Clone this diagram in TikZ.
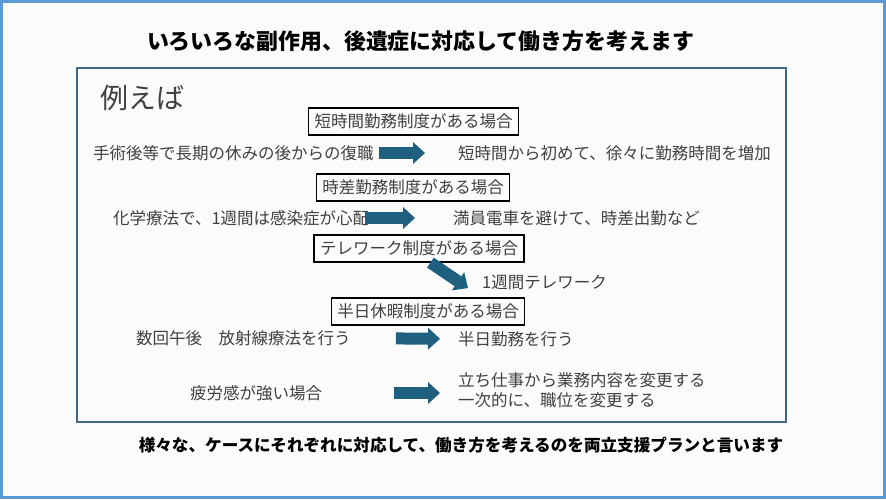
\documentclass[tikz,border=0pt]{standalone}
\usepackage{fontspec}
\setmainfont{Noto Sans CJK JP}
\usetikzlibrary{arrows.meta}
\definecolor{framecol}{HTML}{41697F}
\definecolor{arrowcol}{HTML}{1F5F80}
\definecolor{bordercol}{HTML}{5B9BD5}
\definecolor{textcol}{HTML}{404040}
\definecolor{paper}{HTML}{FBFBFB}

\begin{document}
\begin{tikzpicture}[x=1pt, y=-1pt,
  txt/.style={inner sep=0pt, text=textcol, font=\fontsize{16.5}{20}\selectfont},
  seido/.style={draw, line width=1.2pt, inner xsep=6pt, inner ysep=0pt,
    minimum height=27pt, text=textcol, font=\fontsize{16.5}{20}\selectfont},
  fat/.style={line width=12pt, draw=arrowcol,
    -{Triangle[width=22pt, length=12pt, line width=0pt]}}]
\useasboundingbox (0,0) rectangle (886,499);
\fill [paper] (0,0) rectangle (886,499);
\draw [bordercol, line width=3pt] (1.5,1.5) rectangle (884.5,497);
\draw [framecol, line width=2pt] (77,68) rectangle (786,422);

\node (title) at (420.5,41) {\fontsize{21.9}{24}\selectfont\bfseries いろいろな副作用、後遺症に対応して働き方を考えます};
\node [text=textcol] (rei) at (142,98) {\fontsize{28}{30}\selectfont 例えば};

\node [seido] (sht) at (413.5,121.5) {短時間勤務制度がある場合};
\node [seido] (jisa) at (413,187.5) {時差勤務制度がある場合};
\node [seido] (tele) at (419,248.5) {テレワーク制度がある場合};
\node [seido] (han) at (428,311.5) {半日休暇制度がある場合};

\node [txt, anchor=west] (fuku) at (93,153) {手術後等で長期の休みの後からの復職};
\node [txt, anchor=west] (kagaku) at (113,218) {化学療法で、1週間は感染症が心配};
\node [txt, anchor=west] (suukai) at (136,338) {数回午後　放射線療法を行う};
\node [txt, anchor=west] (hirou) at (190,393) {疲労感が強い場合};

\node [txt, anchor=west] (tanji) at (458,153) {短時間から初めて、徐々に勤務時間を増加};
\node [txt, anchor=west] (manin) at (453,218) {満員電車を避けて、時差出勤など};
\node [txt, anchor=west] (telw) at (482,282) {1週間テレワーク};
\node [txt, anchor=west] (hanw) at (458,339) {半日勤務を行う};
\node [txt, anchor=west, align=left] (tachi) at (458,390) {立ち仕事から業務内容を変更する\\一次的に、職位を変更する};
\coordinate (telin) at (468,288);

\draw [fat, shorten <=5pt, shorten >=33pt] (fuku.east) -- (tanji.west);
\draw [fat, shorten <=-4pt, shorten >=38pt] (kagaku.east) -- (manin.west);
\draw [fat] (tele.309) -- (telin);
\draw [fat, shorten <=45pt, shorten >=18pt] (suukai.east) -- (hanw.west);
\draw [fat, shorten <=72pt, shorten >=18pt] (hirou.east) -- (hirou.east -| tachi.west);

\node (plan) at (461,445) {\fontsize{16.6}{20}\selectfont\bfseries 様々な、ケースにそれぞれに対応して、働き方を考えるのを両立支援プランと言います};
\end{tikzpicture}
\end{document}
